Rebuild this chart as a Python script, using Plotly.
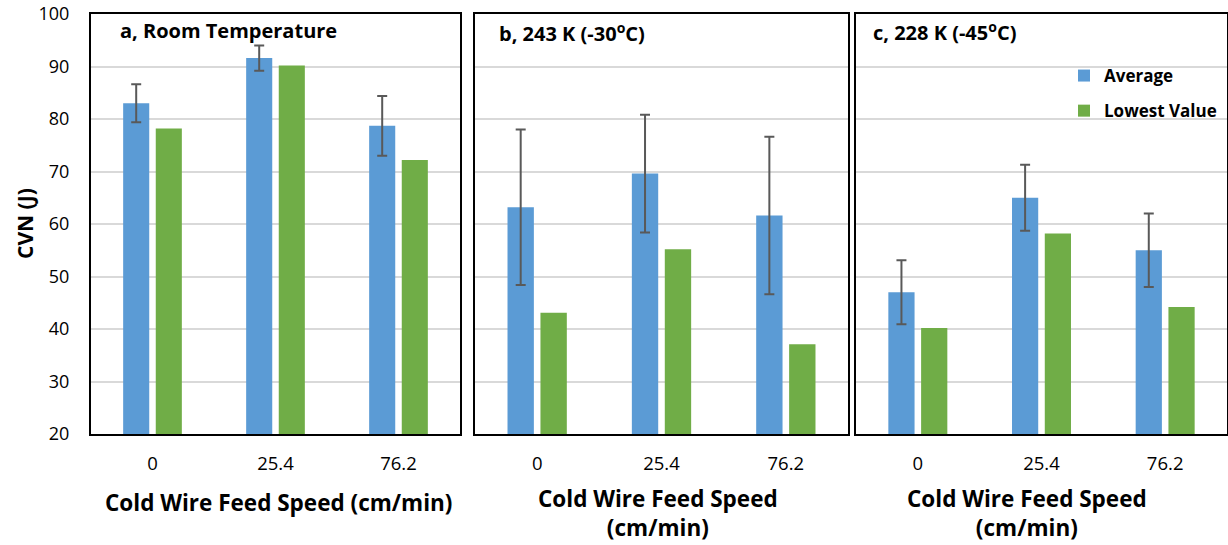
import plotly.graph_objects as go

W, H = 1228, 545

categories = ["0", "25.4", "76.2"]
panel_labels = ["a, Room Temperature", "b, 243 K (-30<sup>o</sup>C)", "c, 228 K (-45<sup>o</sup>C)"]

avg_a = [83.0, 91.6, 78.7]
err_a = [3.6, 2.4, 5.7]
low_a = [78.2, 90.2, 72.2]

avg_b = [63.2, 69.6, 61.6]
err_b = [14.8, 11.2, 15.0]
low_b = [43.1, 55.2, 37.1]

avg_c = [47.0, 65.0, 55.0]
err_c = [6.1, 6.3, 7.0]
low_c = [40.2, 58.2, 44.2]

BLUE = "#5B9BD5"
GREEN = "#70AD47"
FONT = "Open Sans"

def px_x(p):
    return p / W

def px_y(p):
    return 1 - p / H

domains = [(91, 460), (475, 848), (856, 1227)]
y_dom = [px_y(434), px_y(14)]

fig = go.Figure()
series = [(avg_a, err_a, low_a), (avg_b, err_b, low_b), (avg_c, err_c, low_c)]
for i, (avg, err, low) in enumerate(series):
    xa = "x" if i == 0 else f"x{i+1}"
    ya = "y" if i == 0 else f"y{i+1}"
    fig.add_trace(go.Bar(
        x=categories, y=avg, name="Average", marker=dict(color=BLUE, line=dict(width=0)),
        error_y=dict(type="data", array=err, visible=True, color="#595959", thickness=2, width=5),
        xaxis=xa, yaxis=ya, showlegend=(i == 2), legendgroup="avg"))
    fig.add_trace(go.Bar(
        x=categories, y=low, name="Lowest Value", marker=dict(color=GREEN, line=dict(width=0)),
        xaxis=xa, yaxis=ya, showlegend=(i == 2), legendgroup="low"))

layout = dict(
    template="none",
    width=W, height=H,
    margin=dict(l=0, r=0, t=0, b=0, autoexpand=False),
    paper_bgcolor="white", plot_bgcolor="white",
    barmode="group", bargap=0.47, bargroupgap=0.2,
    font=dict(family=FONT, color="black"),
    legend=dict(x=px_x(1064), y=px_y(58), xanchor="left", yanchor="top",
                font=dict(family=FONT, size=17, color="black", weight="bold"),
                bgcolor="rgba(0,0,0,0)", traceorder="grouped", tracegroupgap=10,
                itemwidth=30),
)
for i, (x0, x1) in enumerate(domains):
    sfx = "" if i == 0 else str(i + 1)
    layout[f"xaxis{sfx}"] = dict(
        domain=[px_x(x0), px_x(x1)], anchor=f"y{sfx}", type="category",
        automargin=False,
        showline=True, linecolor="black", linewidth=2, mirror=True,
        ticks="outside", ticklen=12, tickcolor="rgba(0,0,0,0)",
        tickfont=dict(size=18.5, family=FONT, color="black"),
        showgrid=False, zeroline=False)
    layout[f"yaxis{sfx}"] = dict(
        domain=y_dom, anchor=f"x{sfx}", range=[20, 100], dtick=10,
        automargin=False,
        showline=True, linecolor="black", linewidth=2, mirror=True,
        showgrid=True, gridcolor="#D9D9D9", gridwidth=2, zeroline=False,
        ticks="outside" if i == 0 else "", ticklen=16, tickcolor="rgba(0,0,0,0)",
        showticklabels=(i == 0),
        tickfont=dict(size=18, family=FONT, color="black"))
fig.update_layout(**layout)

ann = []
label_pos = [(118, 30), (497, 33), (871, 31)]
for (lx, ly), txt in zip(label_pos, panel_labels):
    ann.append(dict(x=px_x(lx), y=px_y(ly), xref="paper", yref="paper", text=txt,
                    showarrow=False, xanchor="left", yanchor="middle",
                    font=dict(family=FONT, size=20, color="black", weight="bold")))
ann.append(dict(x=px_x(25), y=px_y(224), xref="paper", yref="paper", text="CVN (J)",
                textangle=-90, showarrow=False, xanchor="center", yanchor="middle",
                font=dict(family=FONT, size=21, color="black", weight="bold")))
ann.append(dict(x=px_x(278), y=px_y(502), xref="paper", yref="paper",
                text="Cold Wire Feed Speed (cm/min)", showarrow=False,
                xanchor="center", yanchor="middle",
                font=dict(family=FONT, size=22.5, color="black", weight="bold")))
for cx in (658, 1027):
    ann.append(dict(x=px_x(cx), y=px_y(513), xref="paper", yref="paper",
                    text="Cold Wire Feed Speed<br>(cm/min)", showarrow=False,
                    xanchor="center", yanchor="middle",
                    font=dict(family=FONT, size=22.5, color="black", weight="bold")))
fig.update_layout(annotations=ann)

fig.write_html("out.html", config={"displayModeBar": False},
               post_script="document.body.style.margin='0px';document.body.style.overflow='hidden';")
